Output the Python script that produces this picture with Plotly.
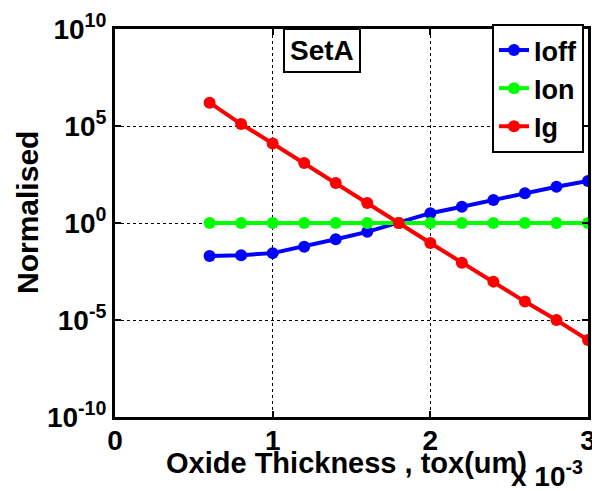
import plotly.graph_objects as go

# Data
tox = [0.6e-3, 0.8e-3, 1.0e-3, 1.2e-3, 1.4e-3, 1.6e-3, 1.8e-3, 2.0e-3, 2.2e-3, 2.4e-3, 2.6e-3, 2.8e-3, 3.0e-3]
ioff = [0.020, 0.022, 0.028, 0.060, 0.145, 0.35, 1.0, 3.2, 6.9, 15.5, 34, 74, 145]
ion = [1.0, 1.0, 1.0, 1.0, 1.0, 1.0, 1.0, 1.0, 1.0, 1.0, 1.0, 1.0, 1.0]
ig = [1.6e6, 1.26e5, 1.26e4, 1.23e3, 115, 10.7, 1.0, 0.093, 0.0089, 9.5e-4, 8.9e-5, 1.0e-5, 9.3e-7]

series_names = ["Ioff", "Ion", "Ig"]
series_colors = ["#0000ff", "#00ff00", "#ff0000"]

x_tickvals = [0, 1e-3, 2e-3, 3e-3]
x_ticktext = ["0", "1", "2", "3"]
y_tickvals = [1e-10, 1e-5, 1e0, 1e5, 1e10]
y_ticktext = ["10<sup>-10</sup>", "10<sup>-5</sup>", "10<sup>0</sup>", "10<sup>5</sup>", "10<sup>10</sup>"]

FONT = "Liberation Sans, Arial, Helvetica, sans-serif"
FS = 29
FST = 28
FSL = 27

fig = go.Figure()
for name, ys, col in zip(series_names, [ioff, ion, ig], series_colors):
    fig.add_trace(go.Scatter(
        x=tox, y=ys, name=name, mode="lines+markers",
        line=dict(color=col, width=4),
        marker=dict(color=col, size=12, symbol="circle"),
    ))

# plot area in pixels
L, R, T, B = 115, 4, 29, 74
W, H = 592, 491
pw, ph = W - L - R, H - T - B

def px(x):
    return (x - L) / pw

def py(y):
    return (H - B - y) / ph

fig.update_layout(
    width=W, height=H,
    margin=dict(l=L, r=R, t=T, b=B, pad=0, autoexpand=False),
    paper_bgcolor="white", plot_bgcolor="white",
    font=dict(family=FONT, size=FS, color="black", weight="bold"),
    showlegend=True,
    legend=dict(
        x=px(584), y=py(24), xanchor="right", yanchor="top",
        bgcolor="white", bordercolor="black", borderwidth=2,
        font=dict(family=FONT, size=FSL, color="black", weight="bold"),
        itemwidth=30, tracegroupgap=0,
    ),
    xaxis=dict(
        range=[0, 3e-3], tickmode="array", tickvals=x_tickvals, ticktext=x_ticktext,
        showline=True, linecolor="black", linewidth=3, mirror="ticks",
        ticks="inside", ticklen=6, tickwidth=2, tickcolor="black",
        showgrid=True, gridcolor="black", gridwidth=1, griddash="dot",
        zeroline=False, automargin=False,
        tickfont=dict(family=FONT, size=FST, color="black", weight="bold"),
        ticklabelstandoff=-4, ticklabeloverflow="allow",
    ),
    yaxis=dict(
        type="log", range=[-10, 10], tickmode="array", tickvals=y_tickvals, ticktext=y_ticktext,
        showline=True, linecolor="black", linewidth=3, mirror="ticks",
        ticks="inside", ticklen=6, tickwidth=2, tickcolor="black",
        showgrid=True, gridcolor="black", gridwidth=1, griddash="dot",
        zeroline=False, automargin=False,
        tickfont=dict(family=FONT, size=FST, color="black", weight="bold"),
        ticklabelstandoff=0, ticklabeloverflow="allow",
    ),
)

fig.add_annotation(
    text="Normalised", xref="paper", yref="paper", x=px(27), y=py(213),
    xanchor="center", yanchor="middle", textangle=-90, showarrow=False,
    font=dict(family=FONT, size=30, color="black", weight="bold"),
)
fig.add_annotation(
    text="Oxide Thickness , tox(um)", xref="paper", yref="paper", x=px(346), y=py(463),
    xanchor="center", yanchor="middle", showarrow=False,
    font=dict(family=FONT, size=FS, color="black", weight="bold"),
)
fig.add_annotation(
    text="x 10<sup>-3</sup>", xref="paper", yref="paper", x=px(585), y=py(474),
    xanchor="right", yanchor="middle", showarrow=False,
    font=dict(family=FONT, size=FST, color="black", weight="bold"),
)
fig.add_annotation(
    text="SetA", xref="paper", yref="paper", x=px(322), y=py(50),
    xanchor="center", yanchor="middle", showarrow=False,
    bgcolor="white", bordercolor="black", borderwidth=2, borderpad=5,
    font=dict(family=FONT, size=FST, color="black", weight="bold"),
)

fig.write_html("out.html")
